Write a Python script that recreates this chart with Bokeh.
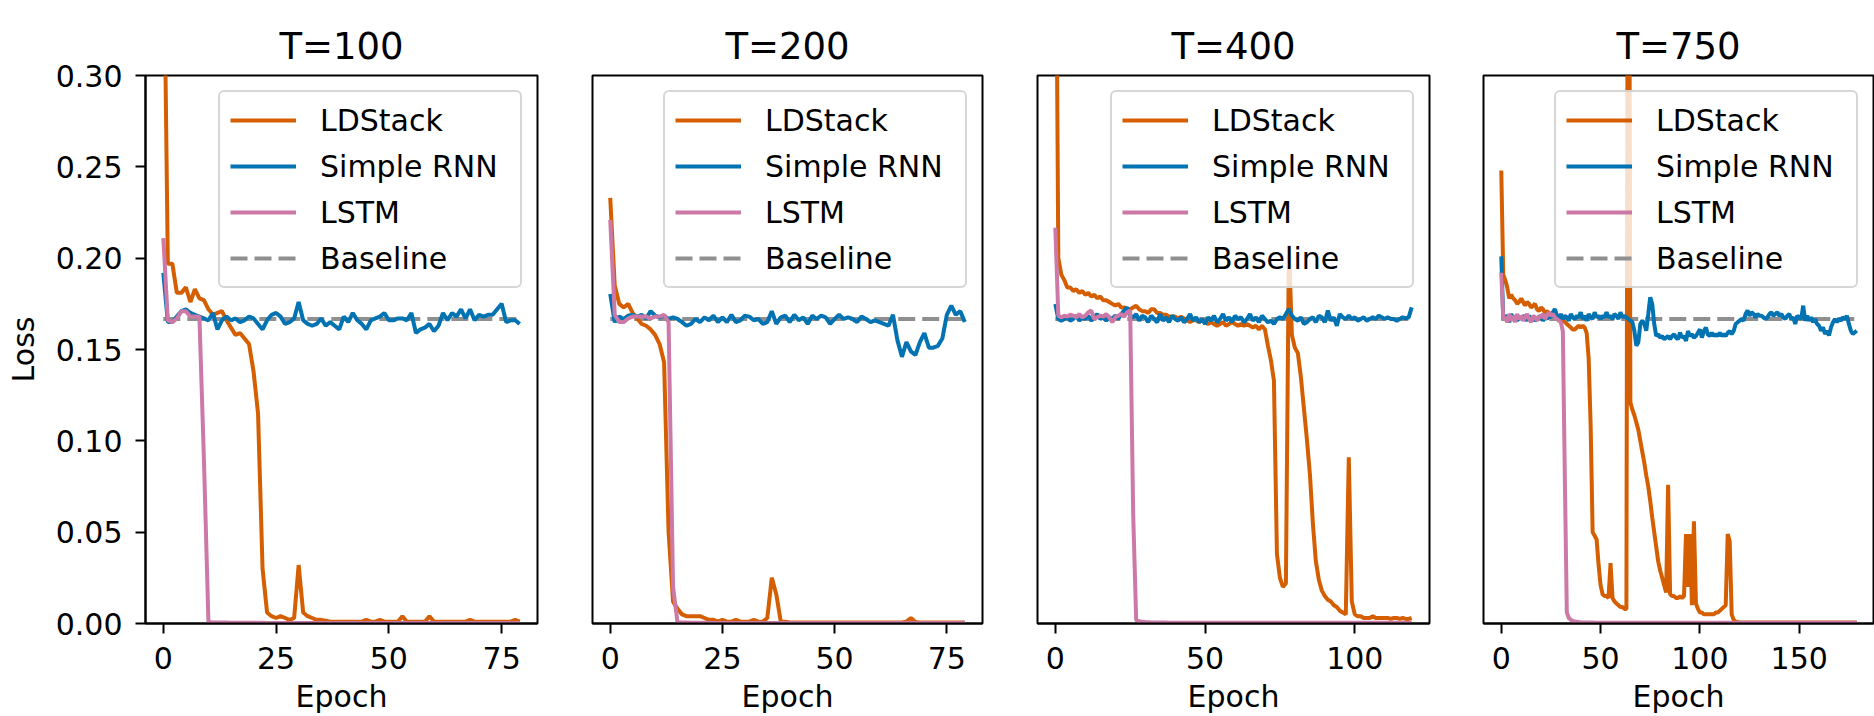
from bokeh.plotting import figure
from bokeh.layouts import row
from bokeh.models import FixedTicker, PrintfTickFormatter, Legend, LegendItem, Range1d
from bokeh.embed import file_html
from bokeh.resources import INLINE

FONT = "DejaVu Sans"
ORANGE = "#d55e00"
BLUE = "#0173b2"
PINK = "#cc79a7"
GRAY = "#8f8f8f"

titles = ["T=100", "T=200", "T=400", "T=750"]
series_names = ["LDStack", "Simple RNN", "LSTM", "Baseline"]
x_label = "Epoch"
y_label = "Loss"
baseline_loss = 0.1667
y_ticks = [0.0, 0.05, 0.10, 0.15, 0.20, 0.25, 0.30]
x_ticks_100 = [0, 25, 50, 75]
x_ticks_200 = [0, 25, 50, 75]
x_ticks_400 = [0, 50, 100]
x_ticks_750 = [0, 50, 100, 150]

# ---------------- T=100 (80 epochs) ----------------
ld_100 = [0.400, 0.197, 0.197, 0.181, 0.181, 0.184, 0.176, 0.183, 0.178, 0.177,
          0.172, 0.169, 0.170, 0.171, 0.166, 0.162, 0.158, 0.159, 0.156, 0.153,
          0.138, 0.115, 0.030, 0.006, 0.004, 0.003, 0.004, 0.003, 0.002, 0.003,
          0.032, 0.006, 0.004, 0.003, 0.002, 0.002, 0.0015, 0.001, 0.001, 0.001,
          0.001, 0.001, 0.001, 0.001, 0.001, 0.002, 0.001, 0.001, 0.002, 0.001,
          0.001, 0.001, 0.001, 0.004, 0.001, 0.001, 0.001, 0.001, 0.001, 0.004,
          0.001, 0.001, 0.001, 0.001, 0.001, 0.001, 0.001, 0.001, 0.002, 0.001,
          0.001, 0.001, 0.001, 0.001, 0.001, 0.001, 0.001, 0.001, 0.002, 0.001]
rnn_100 = [0.192, 0.165, 0.165, 0.168, 0.171, 0.172, 0.170, 0.169, 0.168, 0.167,
           0.166, 0.170, 0.161, 0.166, 0.168, 0.166, 0.167, 0.165, 0.166, 0.168,
           0.167, 0.164, 0.161, 0.166, 0.169, 0.170, 0.168, 0.164, 0.165, 0.167,
           0.176, 0.166, 0.164, 0.163, 0.164, 0.167, 0.163, 0.165, 0.163, 0.161,
           0.168, 0.165, 0.170, 0.166, 0.164, 0.161, 0.166, 0.167, 0.168, 0.170,
           0.166, 0.166, 0.167, 0.167, 0.166, 0.170, 0.159, 0.161, 0.162, 0.164,
           0.160, 0.163, 0.170, 0.166, 0.170, 0.168, 0.172, 0.167, 0.172, 0.166,
           0.169, 0.168, 0.169, 0.169, 0.172, 0.175, 0.165, 0.166, 0.166, 0.164]
lstm_100 = [0.211, 0.166, 0.165, 0.167, 0.171, 0.171, 0.168, 0.168, 0.168, 0.090,
            0.0008, 0.0006, 0.0005, 0.0005, 0.0005, 0.0004, 0.0004, 0.0004, 0.0004, 0.0004,
            0.0004, 0.0004, 0.0004, 0.0003, 0.0003, 0.0003, 0.0003, 0.0003, 0.0003, 0.0003,
            0.0003, 0.0003, 0.0003, 0.0003, 0.0003, 0.0003, 0.0003, 0.0003, 0.0003, 0.0003,
            0.0003, 0.0003, 0.0003, 0.0003, 0.0003, 0.0003, 0.0003, 0.0003, 0.0003, 0.0003,
            0.0003, 0.0003, 0.0003, 0.0003, 0.0003, 0.0003, 0.0003, 0.0003, 0.0003, 0.0003,
            0.0003, 0.0003, 0.0003, 0.0003, 0.0003, 0.0003, 0.0003, 0.0003, 0.0003, 0.0003,
            0.0003, 0.0003, 0.0003, 0.0003, 0.0003, 0.0003, 0.0003, 0.0003, 0.0003, 0.0003]

# ---------------- T=200 (80 epochs) ----------------
ld_200 = [0.233, 0.185, 0.175, 0.173, 0.175, 0.170, 0.167, 0.164, 0.163, 0.161,
          0.158, 0.153, 0.143, 0.050, 0.012, 0.008, 0.005, 0.004, 0.004, 0.004,
          0.004, 0.003, 0.002, 0.002, 0.001, 0.002, 0.001, 0.001, 0.002, 0.001,
          0.001, 0.001, 0.002, 0.001, 0.001, 0.003, 0.025, 0.016, 0.001, 0.001,
          0.0006, 0.0005, 0.0005, 0.0006, 0.0005, 0.0005, 0.0006, 0.0005, 0.0005, 0.0005,
          0.0005, 0.0006, 0.0005, 0.0005, 0.0005, 0.0006, 0.0005, 0.0005, 0.0005, 0.0006,
          0.0005, 0.0005, 0.0006, 0.0005, 0.0005, 0.0006, 0.0010, 0.0030, 0.0008, 0.0005,
          0.0005, 0.0005, 0.0006, 0.0005, 0.0005, 0.0005, 0.0006, 0.0005, 0.0005, 0.0005]
rnn_200 = [0.1804, 0.1650, 0.1680, 0.1667, 0.1685, 0.1690, 0.1680, 0.1690, 0.1670, 0.1710,
           0.1685, 0.1676, 0.1685, 0.1667, 0.1676, 0.1667, 0.1650, 0.1630, 0.1640, 0.1667,
           0.1650, 0.1676, 0.1660, 0.1685, 0.1650, 0.1676, 0.1650, 0.1690, 0.1650, 0.1660,
           0.1685, 0.1680, 0.1660, 0.1667, 0.1640, 0.1650, 0.1710, 0.1640, 0.1676, 0.1685,
           0.1650, 0.1690, 0.1660, 0.1676, 0.1640, 0.1685, 0.1667, 0.1685, 0.1676, 0.1640,
           0.1667, 0.1690, 0.1667, 0.1676, 0.1667, 0.1650, 0.1680, 0.1667, 0.1650, 0.1660,
           0.1650, 0.1640, 0.1630, 0.1690, 0.1550, 0.1460, 0.1540, 0.1490, 0.1470, 0.1540,
           0.1590, 0.1510, 0.1510, 0.1520, 0.1560, 0.1690, 0.1740, 0.1690, 0.1710, 0.1650]
lstm_200 = [0.221, 0.169, 0.165, 0.165, 0.167, 0.168, 0.168, 0.168, 0.168, 0.167,
            0.168, 0.168, 0.169, 0.165, 0.020, 0.0006, 0.0005, 0.0005, 0.0004, 0.0004,
            0.0004, 0.0004, 0.0004, 0.0003, 0.0003, 0.0003, 0.0003, 0.0003, 0.0003, 0.0003,
            0.0003, 0.0003, 0.0003, 0.0003, 0.0003, 0.0003, 0.0003, 0.0003, 0.0003, 0.0003,
            0.0003, 0.0003, 0.0003, 0.0003, 0.0003, 0.0003, 0.0003, 0.0003, 0.0003, 0.0003,
            0.0003, 0.0003, 0.0003, 0.0003, 0.0003, 0.0003, 0.0003, 0.0003, 0.0003, 0.0003,
            0.0003, 0.0003, 0.0003, 0.0003, 0.0003, 0.0003, 0.0003, 0.0003, 0.0003, 0.0003,
            0.0003, 0.0003, 0.0003, 0.0003, 0.0003, 0.0003, 0.0003, 0.0003, 0.0003, 0.0003]

# ---------------- T=400 (120 epochs) ----------------
ld_400 = [0.450, 0.200, 0.191, 0.188, 0.184, 0.184, 0.182, 0.183, 0.181, 0.182,
          0.180, 0.181, 0.179, 0.180, 0.178, 0.179, 0.177, 0.177, 0.176, 0.175,
          0.174, 0.175, 0.173, 0.173, 0.172, 0.172, 0.173, 0.174, 0.172, 0.171,
          0.171, 0.170, 0.172, 0.172, 0.170, 0.170, 0.169, 0.169, 0.168, 0.168,
          0.168, 0.167, 0.168, 0.167, 0.166, 0.165, 0.166, 0.166, 0.165, 0.166,
          0.165, 0.164, 0.165, 0.164, 0.163, 0.164, 0.165, 0.163, 0.164, 0.165,
          0.164, 0.163, 0.164, 0.163, 0.164, 0.163, 0.162, 0.163, 0.161, 0.163,
          0.161, 0.152, 0.144, 0.133, 0.038, 0.025, 0.020, 0.022, 0.207, 0.158,
          0.151, 0.148, 0.135, 0.118, 0.101, 0.082, 0.055, 0.034, 0.024, 0.018,
          0.015, 0.013, 0.012, 0.010, 0.009, 0.007, 0.006, 0.005, 0.091, 0.012,
          0.005, 0.004, 0.004, 0.003, 0.003, 0.003, 0.004, 0.003, 0.003, 0.003,
          0.003, 0.003, 0.0025, 0.003, 0.003, 0.0025, 0.003, 0.0025, 0.0025, 0.003]
rnn_400 = [0.1749, 0.1667, 0.1658, 0.1667, 0.1676, 0.1658, 0.1667, 0.1685, 0.1658, 0.1676,
           0.1667, 0.1685, 0.1658, 0.1676, 0.1694, 0.1667, 0.1676, 0.1658, 0.1676, 0.1667,
           0.1685, 0.1667, 0.1694, 0.1713, 0.1731, 0.1685, 0.1676, 0.1694, 0.1658, 0.1685,
           0.1676, 0.1649, 0.1685, 0.1667, 0.1649, 0.1694, 0.1658, 0.1676, 0.1649, 0.1685,
           0.1667, 0.1658, 0.1676, 0.1649, 0.1667, 0.1694, 0.1658, 0.1676, 0.1649, 0.1667,
           0.1640, 0.1676, 0.1658, 0.1685, 0.1649, 0.1667, 0.1694, 0.1658, 0.1676, 0.1649,
           0.1685, 0.1667, 0.1676, 0.1649, 0.1667, 0.1694, 0.1658, 0.1676, 0.1649, 0.1685,
           0.1667, 0.1649, 0.1658, 0.1640, 0.1667, 0.1676, 0.1667, 0.1694, 0.1722, 0.1685,
           0.1667, 0.1658, 0.1676, 0.1640, 0.1649, 0.1667, 0.1676, 0.1649, 0.1685, 0.1676,
           0.1649, 0.1713, 0.1658, 0.1676, 0.1630, 0.1694, 0.1676, 0.1667, 0.1685, 0.1667,
           0.1676, 0.1658, 0.1667, 0.1676, 0.1658, 0.1667, 0.1676, 0.1667, 0.1685, 0.1676,
           0.1667, 0.1676, 0.1667, 0.1667, 0.1658, 0.1667, 0.1676, 0.1671, 0.1676, 0.1731]
lstm_400 = [0.2167, 0.1685, 0.1676, 0.1685, 0.1680, 0.1691, 0.1685, 0.1676, 0.1694, 0.1676,
            0.1685, 0.1704, 0.1713, 0.1667, 0.1676, 0.1685, 0.1680, 0.1694, 0.1676, 0.1649,
            0.1676, 0.1685, 0.1694, 0.1680, 0.1704, 0.1713, 0.0600, 0.0020, 0.0012, 0.0010,
            0.0008, 0.0007, 0.0006, 0.0006, 0.0005, 0.0005, 0.0005, 0.0005, 0.0004, 0.0004,
            0.0004, 0.0004, 0.0004, 0.0004, 0.0004, 0.0004, 0.0004, 0.0004, 0.0004, 0.0004,
            0.0004, 0.0004, 0.0004, 0.0004, 0.0004, 0.0004, 0.0004, 0.0004, 0.0004, 0.0004,
            0.0004, 0.0004, 0.0004, 0.0004, 0.0004, 0.0004, 0.0004, 0.0004, 0.0004, 0.0004,
            0.0004, 0.0004, 0.0004, 0.0004, 0.0004, 0.0004, 0.0004, 0.0004, 0.0004, 0.0004,
            0.0004, 0.0004, 0.0004, 0.0004, 0.0004, 0.0004, 0.0004, 0.0004, 0.0004, 0.0004,
            0.0004, 0.0004, 0.0004, 0.0004, 0.0004, 0.0004, 0.0004, 0.0004, 0.0004, 0.0004,
            0.0004, 0.0004, 0.0004, 0.0004, 0.0004, 0.0004, 0.0004, 0.0004, 0.0004, 0.0004,
            0.0004, 0.0004, 0.0004, 0.0004, 0.0004, 0.0004, 0.0004, 0.0004, 0.0004, 0.0004]

# ---------------- T=750 (180 epochs) ----------------
ld_750 = [0.248, 0.191, 0.188, 0.184, 0.178, 0.180, 0.178, 0.177, 0.175, 0.176,
          0.178, 0.176, 0.174, 0.176, 0.175, 0.173, 0.174, 0.175, 0.172, 0.171,
          0.173, 0.172, 0.170, 0.171, 0.170, 0.169, 0.169, 0.168, 0.168, 0.167,
          0.167, 0.166, 0.165, 0.164, 0.163, 0.162, 0.161, 0.161, 0.162, 0.163,
          0.162, 0.163, 0.162, 0.159, 0.145, 0.108, 0.050, 0.048, 0.046, 0.032,
          0.021, 0.016, 0.015, 0.015, 0.014, 0.033, 0.014, 0.012, 0.011, 0.010,
          0.009, 0.009, 0.008, 0.008, 0.600, 0.121, 0.117, 0.114, 0.110, 0.106,
          0.100, 0.094, 0.088, 0.081, 0.075, 0.067, 0.058, 0.050, 0.042, 0.034,
          0.029, 0.025, 0.021, 0.017, 0.076, 0.016, 0.015, 0.015, 0.014, 0.014,
          0.015, 0.014, 0.015, 0.049, 0.020, 0.049, 0.010, 0.056, 0.011, 0.008,
          0.006, 0.006, 0.005, 0.005, 0.005, 0.005, 0.005, 0.005, 0.006, 0.006,
          0.007, 0.008, 0.009, 0.010, 0.049, 0.045, 0.005, 0.002, 0.001, 0.0008,
          0.0006, 0.0006, 0.0005, 0.0005, 0.0005, 0.0005, 0.0005, 0.0005, 0.0005, 0.0005,
          0.0005, 0.0005, 0.0005, 0.0005, 0.0005, 0.0005, 0.0005, 0.0005, 0.0005, 0.0005,
          0.0005, 0.0005, 0.0005, 0.0005, 0.0005, 0.0005, 0.0005, 0.0005, 0.0005, 0.0005,
          0.0005, 0.0005, 0.0005, 0.0005, 0.0005, 0.0005, 0.0005, 0.0005, 0.0005, 0.0005,
          0.0005, 0.0005, 0.0005, 0.0005, 0.0005, 0.0005, 0.0005, 0.0005, 0.0005, 0.0005,
          0.0005, 0.0005, 0.0005, 0.0005, 0.0005, 0.0005, 0.0005, 0.0005, 0.0005, 0.0005]
rnn_750 = [0.2010, 0.1667, 0.1685, 0.1676, 0.1649, 0.1694, 0.1667, 0.1685, 0.1658, 0.1676,
           0.1667, 0.1685, 0.1676, 0.1658, 0.1685, 0.1667, 0.1676, 0.1658, 0.1667, 0.1676,
           0.1685, 0.1658, 0.1676, 0.1667, 0.1685, 0.1676, 0.1704, 0.1722, 0.1685, 0.1667,
           0.1694, 0.1667, 0.1685, 0.1676, 0.1658, 0.1694, 0.1676, 0.1667, 0.1685, 0.1676,
           0.1704, 0.1667, 0.1685, 0.1658, 0.1694, 0.1676, 0.1667, 0.1704, 0.1676, 0.1685,
           0.1667, 0.1685, 0.1676, 0.1704, 0.1676, 0.1685, 0.1667, 0.1694, 0.1685, 0.1667,
           0.1704, 0.1676, 0.1685, 0.1676, 0.1667, 0.1658, 0.1649, 0.1603, 0.1520, 0.1540,
           0.1640, 0.1658, 0.1640, 0.1603, 0.1694, 0.1786, 0.1749, 0.1640, 0.1574, 0.1583,
           0.1565, 0.1574, 0.1556, 0.1565, 0.1574, 0.1556, 0.1574, 0.1583, 0.1565, 0.1556,
           0.1592, 0.1565, 0.1574, 0.1547, 0.1601, 0.1574, 0.1583, 0.1565, 0.1574, 0.1592,
           0.1610, 0.1565, 0.1601, 0.1620, 0.1583, 0.1574, 0.1592, 0.1574, 0.1583, 0.1574,
           0.1592, 0.1574, 0.1583, 0.1574, 0.1592, 0.1601, 0.1583, 0.1601, 0.1640, 0.1649,
           0.1658, 0.1667, 0.1658, 0.1694, 0.1713, 0.1685, 0.1704, 0.1694, 0.1676, 0.1694,
           0.1685, 0.1685, 0.1676, 0.1667, 0.1676, 0.1694, 0.1704, 0.1685, 0.1694, 0.1704,
           0.1685, 0.1694, 0.1676, 0.1667, 0.1685, 0.1694, 0.1667, 0.1676, 0.1640, 0.1685,
           0.1676, 0.1667, 0.1740, 0.1658, 0.1685, 0.1658, 0.1676, 0.1649, 0.1667, 0.1640,
           0.1630, 0.1603, 0.1621, 0.1585, 0.1603, 0.1576, 0.1621, 0.1649, 0.1667, 0.1649,
           0.1667, 0.1658, 0.1676, 0.1667, 0.1685, 0.1640, 0.1603, 0.1585, 0.1594, 0.1603]
lstm_750 = [0.1920, 0.1667, 0.1676, 0.1649, 0.1694, 0.1658, 0.1685, 0.1649, 0.1694, 0.1667,
            0.1685, 0.1658, 0.1676, 0.1694, 0.1667, 0.1649, 0.1685, 0.1676, 0.1658, 0.1685,
            0.1676, 0.1694, 0.1667, 0.1685, 0.1704, 0.1685, 0.1694, 0.1676, 0.1667, 0.1658,
            0.1649, 0.1600, 0.0800, 0.0060, 0.0030, 0.0020, 0.0015, 0.0010, 0.0010, 0.0008,
            0.0006, 0.0006, 0.0005, 0.0005, 0.0005, 0.0005, 0.0005, 0.0004, 0.0004, 0.0004,
            0.0004, 0.0004, 0.0004, 0.0004, 0.0004, 0.0004, 0.0004, 0.0004, 0.0004, 0.0004,
            0.0004, 0.0004, 0.0004, 0.0004, 0.0004, 0.0004, 0.0004, 0.0004, 0.0004, 0.0004,
            0.0004, 0.0004, 0.0004, 0.0004, 0.0004, 0.0004, 0.0004, 0.0004, 0.0004, 0.0004,
            0.0004, 0.0004, 0.0004, 0.0004, 0.0004, 0.0004, 0.0004, 0.0004, 0.0004, 0.0004,
            0.0004, 0.0004, 0.0004, 0.0004, 0.0004, 0.0004, 0.0004, 0.0004, 0.0004, 0.0004,
            0.0004, 0.0004, 0.0004, 0.0004, 0.0004, 0.0004, 0.0004, 0.0004, 0.0004, 0.0004,
            0.0004, 0.0004, 0.0004, 0.0004, 0.0004, 0.0004, 0.0004, 0.0004, 0.0004, 0.0004,
            0.0004, 0.0004, 0.0004, 0.0004, 0.0004, 0.0004, 0.0004, 0.0004, 0.0004, 0.0004,
            0.0004, 0.0004, 0.0004, 0.0004, 0.0004, 0.0004, 0.0004, 0.0004, 0.0004, 0.0004,
            0.0004, 0.0004, 0.0004, 0.0004, 0.0004, 0.0004, 0.0004, 0.0004, 0.0004, 0.0004,
            0.0004, 0.0004, 0.0004, 0.0004, 0.0004, 0.0004, 0.0004, 0.0004, 0.0004, 0.0004,
            0.0004, 0.0004, 0.0004, 0.0004, 0.0004, 0.0004, 0.0004, 0.0004, 0.0004, 0.0004,
            0.0004, 0.0004, 0.0004, 0.0004, 0.0004, 0.0004, 0.0004, 0.0004, 0.0004, 0.0004]

panels = [
    dict(title=titles[0], ld=ld_100, rnn=rnn_100, lstm=lstm_100, xt=x_ticks_100,
         xr=(-3.95, 82.95), bl=145, fw=392, br=4, yaxis=True),
    dict(title=titles[1], ld=ld_200, rnn=rnn_200, lstm=lstm_200, xt=x_ticks_200,
         xr=(-3.95, 82.95), bl=51, fw=390, br=4, yaxis=False),
    dict(title=titles[2], ld=ld_400, rnn=rnn_400, lstm=lstm_400, xt=x_ticks_400,
         xr=(-5.95, 124.95), bl=51, fw=392, br=4, yaxis=False),
    dict(title=titles[3], ld=ld_750, rnn=rnn_750, lstm=lstm_750, xt=x_ticks_750,
         xr=(-8.95, 187.4), bl=50, fw=390, br=1, yaxis=False),
]

H_MAIN = 716
TOP = 75
BOTTOM = 93

figs = []
for pd in panels:
    n = len(pd["ld"])
    epochs = list(range(n))
    W = pd["bl"] + pd["fw"] + pd["br"]
    p = figure(width=W, height=H_MAIN,
               x_range=Range1d(*pd["xr"]), y_range=Range1d(0, 0.30),
               min_border_left=pd["bl"], min_border_right=pd["br"],
               min_border_top=TOP, min_border_bottom=BOTTOM,
               y_axis_location="left" if pd["yaxis"] else None,
               output_backend="svg", toolbar_location=None,
               background_fill_color="white", border_fill_color="white")
    p.title.text = pd["title"]
    p.title.align = "center"
    p.title.text_font = FONT
    p.title.text_font_size = "37px"
    p.title.text_font_style = "normal"
    p.title.text_color = "black"
    p.title.standoff = 16
    p.xgrid.visible = False
    p.ygrid.visible = False
    p.outline_line_color = "black"
    p.outline_line_width = 2
    p.outline_line_alpha = 1.0

    ax = p.xaxis[0]
    ax.ticker = FixedTicker(ticks=pd["xt"])
    ax.major_label_text_font = FONT
    ax.major_label_text_font_size = "30px"
    ax.major_label_text_color = "black"
    ax.major_tick_out = 10
    ax.major_tick_in = 0
    ax.minor_tick_out = 0
    ax.minor_tick_in = 0
    ax.major_tick_line_width = 2
    ax.axis_line_width = 2
    ax.major_label_standoff = 13
    ax.axis_label = x_label
    ax.axis_label_text_font = FONT
    ax.axis_label_text_font_size = "30px"
    ax.axis_label_text_font_style = "normal"
    ax.axis_label_text_color = "black"
    ax.axis_label_standoff = 7

    if pd["yaxis"]:
        ay = p.yaxis[0]
        ay.ticker = FixedTicker(ticks=y_ticks)
        ay.formatter = PrintfTickFormatter(format="%.2f")
        ay.major_label_text_font = FONT
        ay.major_label_text_font_size = "30px"
        ay.major_label_text_color = "black"
        ay.major_tick_out = 10
        ay.major_tick_in = 0
        ay.minor_tick_out = 0
        ay.minor_tick_in = 0
        ay.major_tick_line_width = 2
        ay.axis_line_width = 2
        ay.major_label_standoff = 13
        ay.axis_label = y_label
        ay.axis_label_text_font = FONT
        ay.axis_label_text_font_size = "30px"
        ay.axis_label_text_font_style = "normal"
        ay.axis_label_text_color = "black"
        ay.axis_label_standoff = 12

    r_base = p.line([epochs[0], epochs[-1]], [baseline_loss, baseline_loss],
                    line_color=GRAY, line_width=4, line_dash="17 7")
    r_ld = p.line(epochs, pd["ld"], line_color=ORANGE, line_width=4)
    r_rnn = p.line(epochs, pd["rnn"], line_color=BLUE, line_width=4)
    r_lstm = p.line(epochs, pd["lstm"], line_color=PINK, line_width=4)

    legend = Legend(items=[LegendItem(label=series_names[0], renderers=[r_ld]),
                           LegendItem(label=series_names[1], renderers=[r_rnn]),
                           LegendItem(label=series_names[2], renderers=[r_lstm]),
                           LegendItem(label=series_names[3], renderers=[r_base])],
                    location="top_right", margin=15, padding=10, spacing=10,
                    glyph_width=66, glyph_height=36, label_height=36, label_width=190,
                    label_standoff=24, label_text_font=FONT, label_text_font_size="30px",
                    label_text_color="black",
                    border_line_color="#cccccc", border_line_width=2, border_line_alpha=0.8,
                    background_fill_color="white", background_fill_alpha=0.8)
    if "border_radius" in Legend.properties():
        legend.border_radius = 6
    p.add_layout(legend)
    figs.append(p)

layout = row(*figs)
open("out.html", "w").write(file_html(layout, INLINE))
